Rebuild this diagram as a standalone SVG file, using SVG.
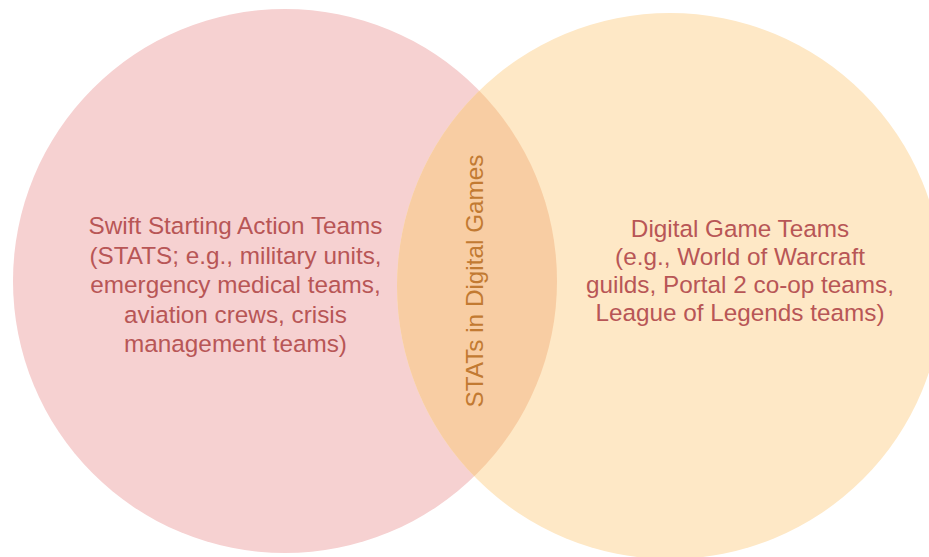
<svg xmlns="http://www.w3.org/2000/svg" width="929" height="557" viewBox="0 0 929 557">
  <style>
    .lbl { font-family: "Liberation Sans", Arial, sans-serif; font-size: 24.3px; text-anchor: middle; }
    .red { fill: #b85656; }
    .mid { fill: #c27a32; }
  </style>
  <defs>
    <clipPath id="clipLeft">
      <circle cx="285" cy="281" r="272"/>
    </clipPath>
  </defs>
  <rect width="929" height="557" fill="#ffffff"/>
  <g id="node-stats">
    <circle cx="285" cy="281" r="272" fill="#f6d1d1"/>
  </g>
  <g id="node-digital">
    <circle cx="670" cy="286" r="273" fill="#fee8c6"/>
  </g>
  <g id="node-overlap">
    <circle cx="670" cy="286" r="273" fill="#f8cda3" clip-path="url(#clipLeft)"/>
  </g>
  <g id="connectors"></g>
  <g id="text-stats">
    <text class="lbl red" x="235.5" y="234">Swift Starting Action Teams</text>
    <text class="lbl red" x="235.5" y="263.5">(STATS; e.g., military units,</text>
    <text class="lbl red" x="235.5" y="293">emergency medical teams,</text>
    <text class="lbl red" x="235.5" y="322.5">aviation crews, crisis</text>
    <text class="lbl red" x="235.5" y="352">management teams)</text>
  </g>
  <g id="text-digital">
    <text class="lbl red" x="740" y="237">Digital Game Teams</text>
    <text class="lbl red" x="740" y="265">(e.g., World of Warcraft</text>
    <text class="lbl red" x="740" y="293">guilds, Portal 2 co-op teams,</text>
    <text class="lbl red" x="740" y="321">League of Legends teams)</text>
  </g>
  <g id="text-overlap">
    <text class="lbl mid" transform="translate(483 281) rotate(-90)">STATs in Digital Games</text>
  </g>
</svg>
